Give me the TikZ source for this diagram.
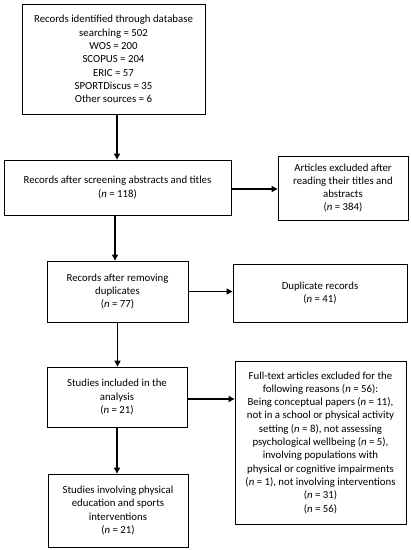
\documentclass[tikz,border=0pt]{standalone}
\usepackage{fontspec}
\setmainfont{Carlito}
\usetikzlibrary{arrows.meta}
\tikzset{
  flowbox/.style={draw, line width=0.9pt, align=center, inner sep=2pt,
    font=\fontsize{10.8}{13.3}\selectfont},
  flowarrow/.style={-{Triangle[length=6pt,width=6pt]}, line width=1.2pt}
}
\begin{document}
\begin{tikzpicture}[x=1pt,y=-1pt]
\useasboundingbox (0,0) rectangle (411,550);
\node[flowbox, minimum width=183pt, minimum height=110pt] (ident) at (113.5,59) {Records identified through database\\searching = 502\\WOS = 200\\SCOPUS = 204\\ERIC = 57\\SPORTDiscus = 35\\Other sources = 6};
\node[flowbox, minimum width=227pt, minimum height=55pt] (screen) at (117.5,187.5) {Records after screening abstracts and titles\\(\textit{n} = 118)};
\node[flowbox, minimum width=130pt, minimum height=64pt] (exclA) at (343,188) {Articles excluded after\\reading their titles and\\abstracts\\(\textit{n} = 384)};
\node[flowbox, minimum width=141pt, minimum height=61pt] (dedup) at (117.5,291.5) {Records after removing\\duplicates\\(\textit{n} = 77)};
\node[flowbox, minimum width=174pt, minimum height=58pt] (dupl) at (320,293) {Duplicate records\\(\textit{n} = 41)};
\node[flowbox, minimum width=140pt, minimum height=60pt] (incl) at (117,397) {Studies included in the\\analysis\\(\textit{n} = 21)};
\node[flowbox, minimum width=171pt, minimum height=163pt] (exclB) at (320.5,442.5) {Full-text articles excluded for the\\following reasons (\textit{n} = 56):\\Being conceptual papers (\textit{n} = 11),\\not in a school or physical activity\\setting (\textit{n} = 8), not assessing\\psychological wellbeing (\textit{n} = 5),\\involving populations with\\physical or cognitive impairments\\(\textit{n} = 1), not involving interventions\\(\textit{n} = 31)\\(\textit{n} = 56)};
\node[flowbox, minimum width=140pt, minimum height=73pt] (final) at (118,510.5) {Studies involving physical\\education and sports\\interventions\\(\textit{n} = 21)};
\draw[flowarrow] ([xshift=3.5pt]ident.south) -- ([xshift=3.5pt]ident.south |- screen.north);
\draw[flowarrow] ([yshift=-1.5pt]screen.east) -- ([yshift=-1.5pt]screen.east -| exclA.west);
\draw[flowarrow] ([xshift=-2.5pt]screen.south) -- ([xshift=-2.5pt]screen.south |- dedup.north);
\draw[flowarrow] (dedup.east) -- (dedup.east -| dupl.west);
\draw[flowarrow] (dedup.south) -- (dedup.south |- incl.north);
\draw[flowarrow] ([yshift=-2pt]incl.east) -- ([yshift=-2pt]incl.east -| exclB.west);
\draw[flowarrow] (incl.south) -- (incl.south |- final.north);
\end{tikzpicture}
\end{document}
